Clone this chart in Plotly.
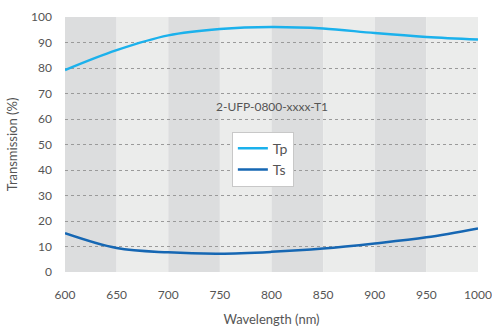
import plotly.graph_objects as go

# Wavelength samples (nm) and transmission curves (%)
wavelength = [600, 650, 700, 750, 800, 850, 900, 950, 1000]
tp_values = [79.2, 87.0, 92.8, 95.3, 96.1, 95.5, 93.7, 92.2, 91.2]
ts_values = [15.2, 9.4, 7.7, 7.2, 7.9, 9.2, 11.2, 13.6, 17.1]

# Alternating background bands across the wavelength range
band_edges = [600, 650, 700, 750, 800, 850, 900, 950, 1000]
band_colors = ["#dcddde", "#ebeceb"]

x_ticks = [600, 650, 700, 750, 800, 850, 900, 950, 1000]
y_ticks = [0, 10, 20, 30, 40, 50, 60, 70, 80, 90, 100]

part_label = "2-UFP-0800-xxxx-T1"

font_family = "Lato, 'Open Sans', sans-serif"
text_color = "#555555"

fig = go.Figure()

fig.add_trace(go.Scatter(
    x=wavelength, y=tp_values, name="Tp", mode="lines",
    line=dict(color="#1bb1ec", width=2.5, shape="spline"),
))
fig.add_trace(go.Scatter(
    x=wavelength, y=ts_values, name="Ts", mode="lines",
    line=dict(color="#1667b3", width=2.5, shape="spline"),
))

shapes = []
for i in range(len(band_edges) - 1):
    shapes.append(dict(
        type="rect", xref="x", yref="paper",
        x0=band_edges[i], x1=band_edges[i + 1], y0=0, y1=1,
        fillcolor=band_colors[i % 2], line=dict(width=0), layer="below",
    ))

fig.update_layout(
    width=492, height=327,
    margin=dict(l=65, r=14, t=17, b=55),
    paper_bgcolor="white",
    plot_bgcolor="rgba(0,0,0,0)",
    font=dict(family=font_family, size=12, color=text_color),
    shapes=shapes,
    showlegend=True,
    legend=dict(
        x=0.404, y=0.55, xanchor="left", yanchor="top",
        bgcolor="white", bordercolor="#c8c8c8", borderwidth=1,
        font=dict(size=14, color=text_color),
        tracegroupgap=0,
    ),
    annotations=[dict(
        x=800, y=65, xref="x", yref="y", text=part_label,
        showarrow=False, font=dict(size=12, color=text_color),
    )],
)

fig.update_xaxes(
    range=[600, 1000], tickvals=x_ticks, ticks="", showgrid=False,
    zeroline=False, showline=False, automargin=False,
    ticklabelstandoff=14,
    title=dict(text="Wavelength (nm)", font=dict(size=13, color=text_color), standoff=18),
    tickfont=dict(size=12, color=text_color),
)
fig.update_yaxes(
    range=[0, 100], tickvals=y_ticks, ticks="", showgrid=True,
    gridcolor="#9a9a9a", griddash="dot", gridwidth=1,
    zeroline=False, showline=False, automargin=False,
    ticklabelstandoff=12,
    title=dict(text="Transmission (%)", font=dict(size=13, color=text_color), standoff=10),
    tickfont=dict(size=12, color=text_color),
)

fig.write_html("out.html")
